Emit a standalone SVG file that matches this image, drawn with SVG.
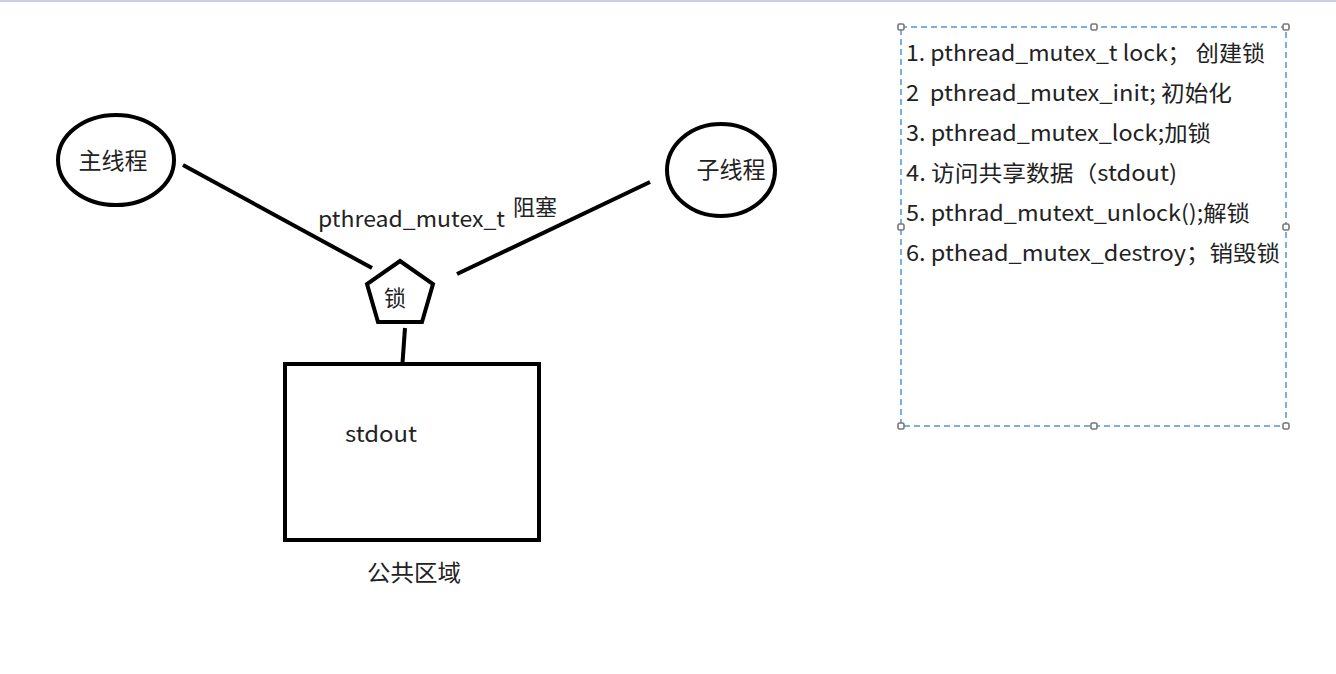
<svg xmlns="http://www.w3.org/2000/svg" width="1336" height="674" viewBox="0 0 1336 674">
<style>
.sh{fill:#fff;stroke:#000;stroke-width:4}
.ln{stroke:#000;stroke-width:4;fill:none;stroke-linecap:butt}
.t{font-family:"Noto Sans CJK SC","Noto Sans",sans-serif;fill:#222;font-size:22px}
.c{font-size:23px}
.hd{fill:#fff;stroke:#777;stroke-width:1.6}
</style>
<rect width="1336" height="674" fill="#fff"/>
<rect x="0" y="0" width="1336" height="2" fill="#c9d0e2"/>
<g id="connectors">
<line class="ln" x1="183" y1="165" x2="372" y2="268"/>
<line class="ln" x1="650" y1="182" x2="457" y2="274"/>
<line class="ln" x1="405" y1="328" x2="402" y2="370"/>
</g>
<g id="main-thread">
<ellipse class="sh" cx="116" cy="160" rx="58" ry="45"/>
<text class="t c" x="113" y="169" text-anchor="middle">主线程</text>
</g>
<g id="child-thread">
<ellipse class="sh" cx="721" cy="170" rx="54" ry="46"/>
<text class="t c" x="731" y="178" text-anchor="middle">子线程</text>
</g>
<g id="lock">
<polygon class="sh" points="400,261 433,284 422,322 378,322 367,284"/>
<text class="t" x="395" y="306" text-anchor="middle">锁</text>
</g>
<g id="labels">
<text class="t" x="318" y="227" textLength="187" lengthAdjust="spacingAndGlyphs">pthread_mutex_t</text>
<text class="t" x="513" y="215">阻塞</text>
</g>
<g id="stdout">
<rect class="sh" x="285" y="364" width="254" height="176"/>
<text class="t" x="345" y="442" textLength="72" lengthAdjust="spacingAndGlyphs">stdout</text>
<text class="t c" x="414" y="581" text-anchor="middle" textLength="94" lengthAdjust="spacingAndGlyphs">公共区域</text>
</g>
<g id="steps">
<rect x="901" y="27" width="385" height="399" fill="none" stroke="#4f97d6" stroke-width="1.5" stroke-dasharray="6,4"/>
<rect class="hd" x="898" y="24" width="6" height="6" rx="1.5"/>
<rect class="hd" x="1091" y="24" width="6" height="6" rx="1.5"/>
<rect class="hd" x="1283" y="24" width="6" height="6" rx="1.5"/>
<rect class="hd" x="898" y="224" width="6" height="6" rx="1.5"/>
<rect class="hd" x="1283" y="224" width="6" height="6" rx="1.5"/>
<rect class="hd" x="898" y="423" width="6" height="6" rx="1.5"/>
<rect class="hd" x="1091" y="423" width="6" height="6" rx="1.5"/>
<rect class="hd" x="1283" y="423" width="6" height="6" rx="1.5"/>
<text class="t" x="906" y="61" xml:space="preserve" textLength="359" lengthAdjust="spacingAndGlyphs">1. pthread_mutex_t lock； 创建锁</text>
<text class="t" x="906" y="101" xml:space="preserve" textLength="326" lengthAdjust="spacingAndGlyphs">2  pthread_mutex_init; 初始化</text>
<text class="t" x="906" y="141" textLength="305" lengthAdjust="spacingAndGlyphs">3. pthread_mutex_lock;加锁</text>
<text class="t" x="906" y="181" textLength="271" lengthAdjust="spacingAndGlyphs">4. 访问共享数据（stdout)</text>
<text class="t" x="906" y="221" textLength="344" lengthAdjust="spacingAndGlyphs">5. pthrad_mutext_unlock();解锁</text>
<text class="t" x="906" y="261" textLength="374" lengthAdjust="spacingAndGlyphs">6. pthead_mutex_destroy；销毁锁</text>
</g>
</svg>
